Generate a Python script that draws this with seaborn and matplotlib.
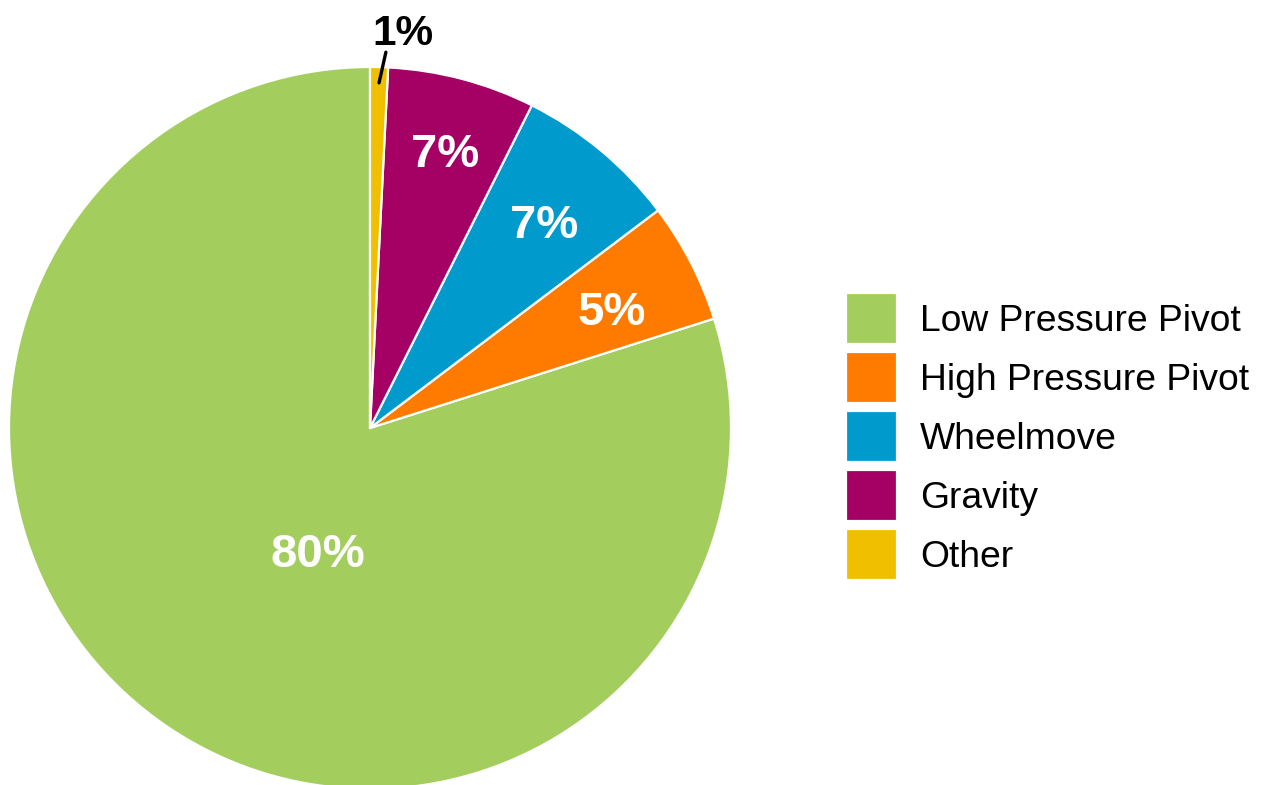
import seaborn as sns
import matplotlib.pyplot as plt

categories = ['Low Pressure Pivot', 'High Pressure Pivot', 'Wheelmove', 'Gravity', 'Other']
shares = [79.9, 5.4, 7.3, 6.6, 0.8]
colors = ['#A3CE5E', '#FF7B00', '#009BCC', '#A50064', '#F0C000']

# where each percent label sits (pie radius = 1), baseline anchored
label_pos = [(-0.145, -0.385), (0.669, 0.285), (0.483, 0.526), (0.208, 0.723), (0.090, 1.061)]

sns.set_theme(style='white')
plt.rcParams['font.family'] = ['Liberation Sans', 'DejaVu Sans']
plt.rcParams['text.color'] = 'black'

W, H = 1270, 785
fig = plt.figure(figsize=(W / 100, H / 100), dpi=100)

# pie centre ~ (370, 428) px, radius ~ 361 px
cx, cy, r = 370, 428, 361
ax = fig.add_axes([(cx - r) / W, (H - cy - r) / H, 2 * r / W, 2 * r / H])

wedges, texts, autotexts = ax.pie(
    shares, colors=colors, startangle=90, counterclock=True,
    autopct=lambda p: f'{p:.0f}%', pctdistance=0.76,
    wedgeprops=dict(edgecolor='white', linewidth=1.6),
    textprops=dict(color='white', fontsize=34, fontweight='bold'),
)
ax.set_xlim(-1, 1)
ax.set_ylim(-1, 1)
ax.set_aspect('equal')
ax.axis('off')

for t, pos in zip(autotexts, label_pos):
    t.set_position(pos)
    t.set_va('baseline')

# tiny slice gets an outside black label with a leader line
autotexts[4].set_color('black')
autotexts[4].set_fontsize(30.5)
autotexts[4].set_clip_on(False)
ax.plot([0.025, 0.044], [0.956, 1.041], color='black', lw=2.4, clip_on=False)

fig.legend(
    wedges, categories, loc='center left', bbox_to_anchor=(846 / W, 1 - 436.5 / H),
    frameon=False, fontsize=26.8, handlelength=1.37, handleheight=1.73,
    handletextpad=0.62, labelspacing=0.215, borderpad=0, borderaxespad=0,
    labelcolor='black',
)

fig.savefig('out.png', dpi=100)
